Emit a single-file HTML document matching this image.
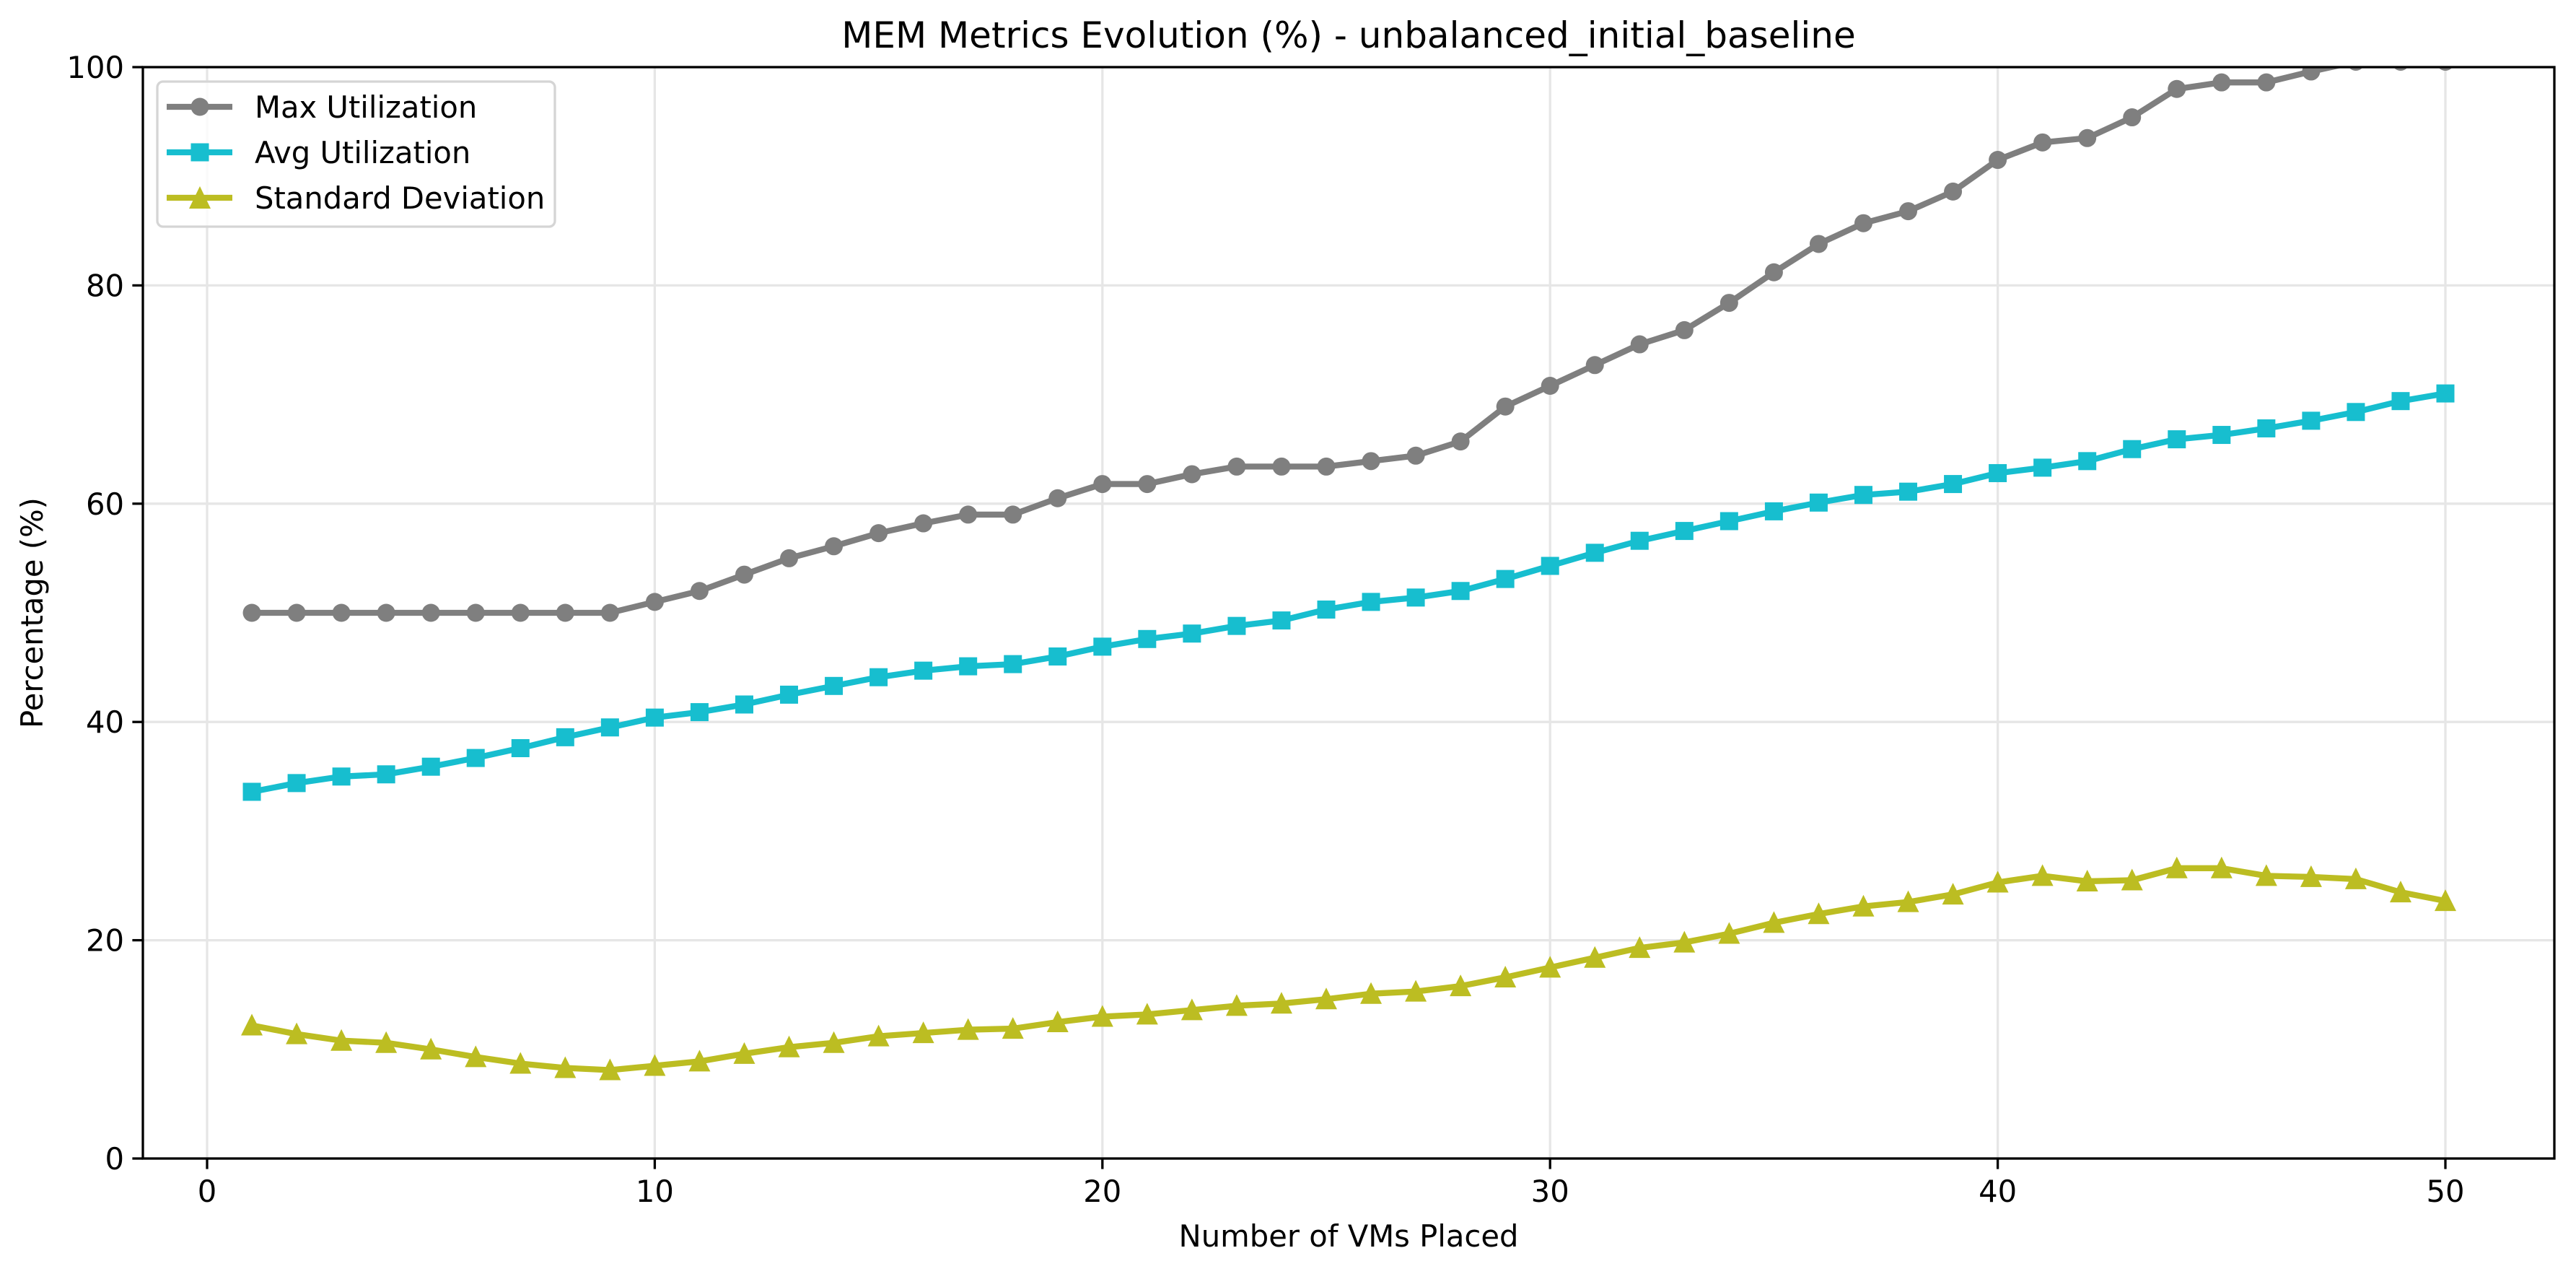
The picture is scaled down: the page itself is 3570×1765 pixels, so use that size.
<!DOCTYPE html>
<html><head><meta charset="utf-8"><style>
html,body{margin:0;padding:0;background:#fff;}
svg{display:block;font-family:"DejaVu Sans","Liberation Sans",sans-serif;}
</style></head><body>
<svg id="chart" width="3570" height="1765" viewBox="0 0 3570 1765" xmlns="http://www.w3.org/2000/svg">
<rect width="3570" height="1765" fill="#fff"/>
<defs><clipPath id="plotclip"><rect x="198" y="93" width="3342" height="1512"/></clipPath></defs>
<g id="grid"></g>
<g id="series" clip-path="url(#plotclip)"></g>
<rect x="198" y="93" width="3342" height="1512" fill="none" stroke="#000" stroke-width="3.3"/>
<g id="axes"></g>
<text x="1869" y="66" font-size="50" text-anchor="middle">MEM Metrics Evolution (%) - unbalanced_initial_baseline</text>
<text x="1869" y="1727" font-size="41.7" text-anchor="middle">Number of VMs Placed</text>
<text x="0" y="0" font-size="41.7" text-anchor="middle" transform="translate(59,849) rotate(-90)">Percentage (%)</text>
<g>
<rect x="218" y="113" width="551" height="201" rx="8" fill="#fff" fill-opacity="0.8" stroke="#d5d5d5" stroke-width="3.3"/>
<g>
<line x1="231" y1="148" x2="322" y2="148" stroke="#7f7f7f" stroke-width="8.3"/>
<circle cx="277" cy="148" r="12.5" fill="#7f7f7f"/>
<text x="353" y="163" font-size="41.7">Max Utilization</text></g>
<g>
<line x1="231" y1="211" x2="322" y2="211" stroke="#17becf" stroke-width="8.3"/>
<rect x="264.5" y="198.5" width="25" height="25" fill="#17becf"/>
<text x="353" y="226" font-size="41.7">Avg Utilization</text></g>
<g>
<line x1="231" y1="274" x2="322" y2="274" stroke="#bcbd22" stroke-width="8.3"/>
<polygon points="277,258 292,289 262,289" fill="#bcbd22"/>
<text x="353" y="289" font-size="41.7">Standard Deviation</text></g>
</g>
</svg>
<script>
const xValues = [];
for (let i = 1; i <= 50; i++) xValues.push(i);
const maxUtil = [50,50,50,50,50,50,50,50,50,51,52,53.5,55,56.1,57.3,58.2,59,59,60.5,61.8,61.8,62.7,63.4,63.4,63.4,63.9,64.4,65.7,68.9,70.8,72.7,74.6,75.9,78.4,81.2,83.8,85.7,86.8,88.6,91.5,93.1,93.5,95.4,98,98.6,98.6,99.6,100.5,100.5,100.5];
const avgUtil = [33.6,34.4,35,35.2,35.9,36.7,37.6,38.6,39.5,40.4,40.9,41.6,42.5,43.3,44.1,44.7,45.1,45.3,46,46.9,47.6,48.1,48.8,49.3,50.3,51,51.4,52,53.1,54.3,55.5,56.6,57.5,58.4,59.3,60.1,60.8,61.1,61.8,62.8,63.3,63.9,65,65.9,66.3,66.9,67.6,68.4,69.4,70.1];
const stdDev = [12.2,11.4,10.8,10.6,10,9.3,8.7,8.3,8.1,8.5,8.9,9.6,10.2,10.6,11.2,11.5,11.8,11.9,12.5,13,13.2,13.6,14,14.2,14.6,15.1,15.3,15.8,16.6,17.5,18.4,19.3,19.8,20.6,21.6,22.4,23.1,23.5,24.2,25.3,25.9,25.4,25.5,26.6,26.6,25.9,25.8,25.6,24.4,23.6];
const xTicks = [0,10,20,30,40,50];
const yTicks = [0,20,40,60,80,100];

const NS = "http://www.w3.org/2000/svg";
const X0 = 287, XS = (3389 - 287) / 50;
const YB = 1605, YT = 93;
function sx(v){ return X0 + v * XS; }
function sy(v){ return YB - v / 100 * (YB - YT); }
function mk(tag, attrs, parent){ const e = document.createElementNS(NS, tag); for (const k in attrs) e.setAttribute(k, attrs[k]); parent.appendChild(e); return e; }

const grid = document.getElementById('grid');
const axes = document.getElementById('axes');
xTicks.forEach(t => {
  const g = mk('line', {x1:sx(t), x2:sx(t), y1:YT, y2:YB, stroke:'#e6e6e6', 'stroke-width':3.3}, grid);
  
  
  const tk = mk('line', {x1:sx(t), x2:sx(t), y1:YB, y2:YB+14.6, stroke:'#000', 'stroke-width':3.3}, axes);
  
  
  const lb = mk('text', {x:sx(t), y:YB+60, 'font-size':41.7, 'text-anchor':'middle'}, axes);
  lb.textContent = t;
  
  
});
yTicks.forEach(t => {
  const g = mk('line', {x1:198, x2:3540, y1:sy(t), y2:sy(t), stroke:'#e6e6e6', 'stroke-width':3.3}, grid);
  
  
  const tk = mk('line', {x1:198-14.6, x2:198, y1:sy(t), y2:sy(t), stroke:'#000', 'stroke-width':3.3}, axes);
  
  
  const lb = mk('text', {x:172, y:sy(t)+15, 'font-size':41.7, 'text-anchor':'end'}, axes);
  lb.textContent = t;
  
  
});

const series = document.getElementById('series');
function drawSeries(vals, color, marker, name){
  const g = mk('g', {}, series);
  
  
  const pts = vals.map((v,i) => sx(xValues[i]) + ',' + sy(v)).join(' ');
  const pl = mk('polyline', {points:pts, fill:'none', stroke:color, 'stroke-width':8.3, 'stroke-linejoin':'round', 'stroke-linecap':'square'}, g);
  
  
  vals.forEach((v,i) => {
    const cx = sx(xValues[i]), cy = sy(v);
    let m;
    if (marker === 'circle') m = mk('circle', {cx:cx, cy:cy, r:12.5, fill:color}, g);
    else if (marker === 'square') m = mk('rect', {x:cx-12.5, y:cy-12.5, width:25, height:25, fill:color}, g);
    else m = mk('polygon', {points:(cx)+','+(cy-16)+' '+(cx+15)+','+(cy+14)+' '+(cx-15)+','+(cy+14), fill:color}, g);
    
    
  });
}
drawSeries(maxUtil, '#7f7f7f', 'circle', 'max-utilization-series');
drawSeries(avgUtil, '#17becf', 'square', 'avg-utilization-series');
drawSeries(stdDev, '#bcbd22', 'triangle', 'std-deviation-series');
</script>
</body></html>
